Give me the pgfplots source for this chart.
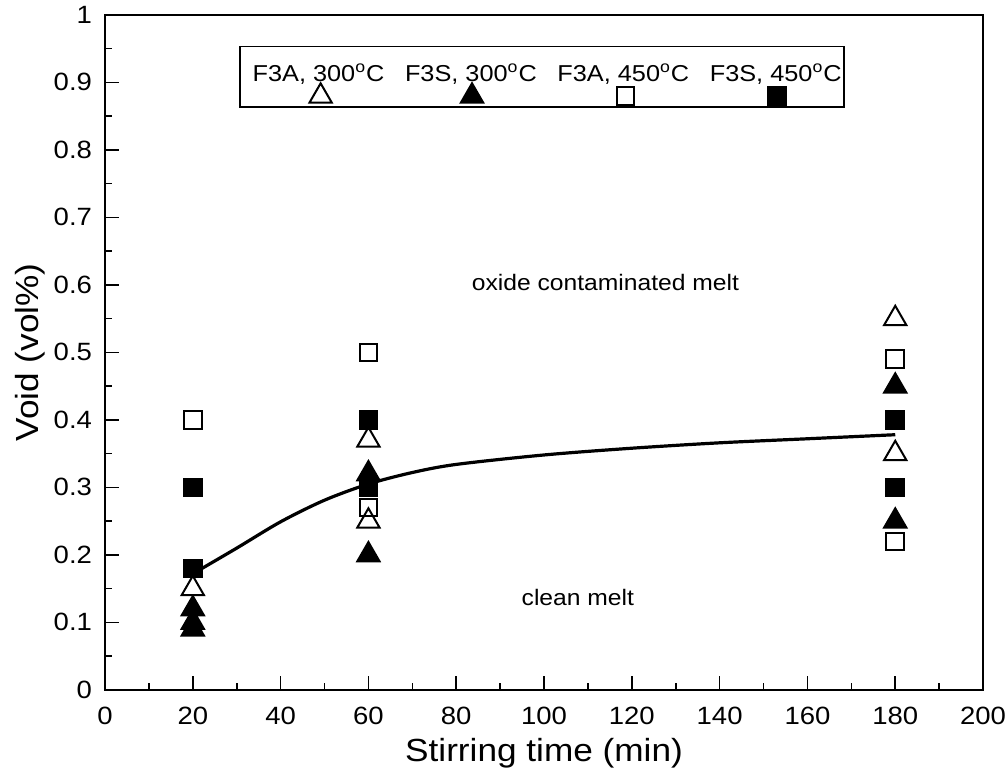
\documentclass[border=0pt]{standalone}
\usepackage{fontspec}
\setmainfont{Liberation Sans}[FakeStretch=1.1]
\usepackage{pgfplots}
\pgfplotsset{compat=1.18}
\pgfplotsset{myleg/.style={legend image code/.code={\draw[##1,overlay] plot coordinates {(#1,-7.5pt)};}}}
\begin{document}
\begin{tikzpicture}
\begin{axis}[
  scale only axis, width=439pt, height=337.5pt,
  xmin=0, xmax=200, ymin=0, ymax=1,
  xtick={0,20,40,60,80,100,120,140,160,180,200},
  ytick={0,0.1,0.2,0.3,0.4,0.5,0.6,0.7,0.8,0.9,1},
  minor x tick num=1, minor y tick num=1,
  tick pos=left, tick align=inside,
  major tick length=7pt, minor tick length=3.5pt,
  axis line style={line width=1.1pt},
  every tick/.style={line width=0.8pt, black},
  /pgf/number format/assume math mode=true,
  yticklabel style={/pgf/number format/fixed, /pgf/number format/precision=1, xshift=-3pt},
  xticklabel style={yshift=-5pt},
  ticklabel style={font=\fontsize{12.5}{14}\selectfont},
  xlabel={Stirring time (min)}, ylabel={Void (vol\%)},
  label style={font=\fontsize{16}{19}\selectfont},
  xlabel style={at={(rel axis cs:0.5,-0.0933)}, anchor=center},
  ylabel style={at={(rel axis cs:-0.0854,0.5)}, anchor=center},
  clip=false,
  legend columns=4,
  legend style={at={(rel axis cs:0.154,0.940)}, anchor=north west,
    draw=none, fill=none, inner xsep=4pt, inner ysep=2pt,
    font=\fontsize{11.5}{13}\selectfont,
    cells={anchor=base west},
    /tikz/every even column/.append style={column sep=6.3pt}},
]
\addplot[smooth, line width=1.6pt, forget plot] coordinates {
  (20,0.172)(30,0.21)(40,0.249)(50,0.281)(60,0.305)(70,0.322)(80,0.334)
  (100,0.348)(120,0.358)(140,0.366)(160,0.372)(180,0.378)};
\addplot[only marks, mark=triangle, mark size=6.4pt, mark options={line width=1pt, black}, myleg=36pt]
  coordinates {(20,0.15)(60,0.37)(60,0.25)(180,0.55)(180,0.35)};
\addlegendentry{F3A, 300\textsuperscript{o}C}
\addplot[only marks, mark=triangle*, mark size=6.4pt, mark options={line width=1pt, black, fill=black}, myleg=35.5pt]
  coordinates {(20,0.12)(20,0.10)(20,0.09)(60,0.32)(60,0.20)(180,0.45)(180,0.25)};
\addlegendentry{F3S, 300\textsuperscript{o}C}
\addplot[only marks, mark=square, mark size=4.4pt, mark options={line width=1pt, black}, myleg=36pt]
  coordinates {(20,0.40)(60,0.50)(60,0.27)(180,0.49)(180,0.22)};
\addlegendentry{F3A, 450\textsuperscript{o}C}
\addplot[only marks, mark=square*, mark size=4.4pt, mark options={line width=1pt, black, fill=black}, myleg=35.5pt]
  coordinates {(20,0.30)(20,0.18)(60,0.40)(60,0.30)(180,0.40)(180,0.30)};
\addlegendentry{F3S, 450\textsuperscript{o}C}
\draw[line width=0.9pt] (rel axis cs:0.154,0.953) rectangle (rel axis cs:0.8417,0.8637);
\node[font=\fontsize{11.2}{13}\selectfont] at (axis cs:114,0.603) {oxide contaminated melt};
\node[font=\fontsize{11.2}{13}\selectfont] at (axis cs:107.7,0.137) {clean melt};
\coordinate (bbsw) at (rel axis cs:-0.1196,-0.1274);
\coordinate (bbne) at (rel axis cs:1.025,1.022);
\end{axis}
\pgfresetboundingbox
\path (bbsw) rectangle (bbne);
\end{tikzpicture}
\end{document}
